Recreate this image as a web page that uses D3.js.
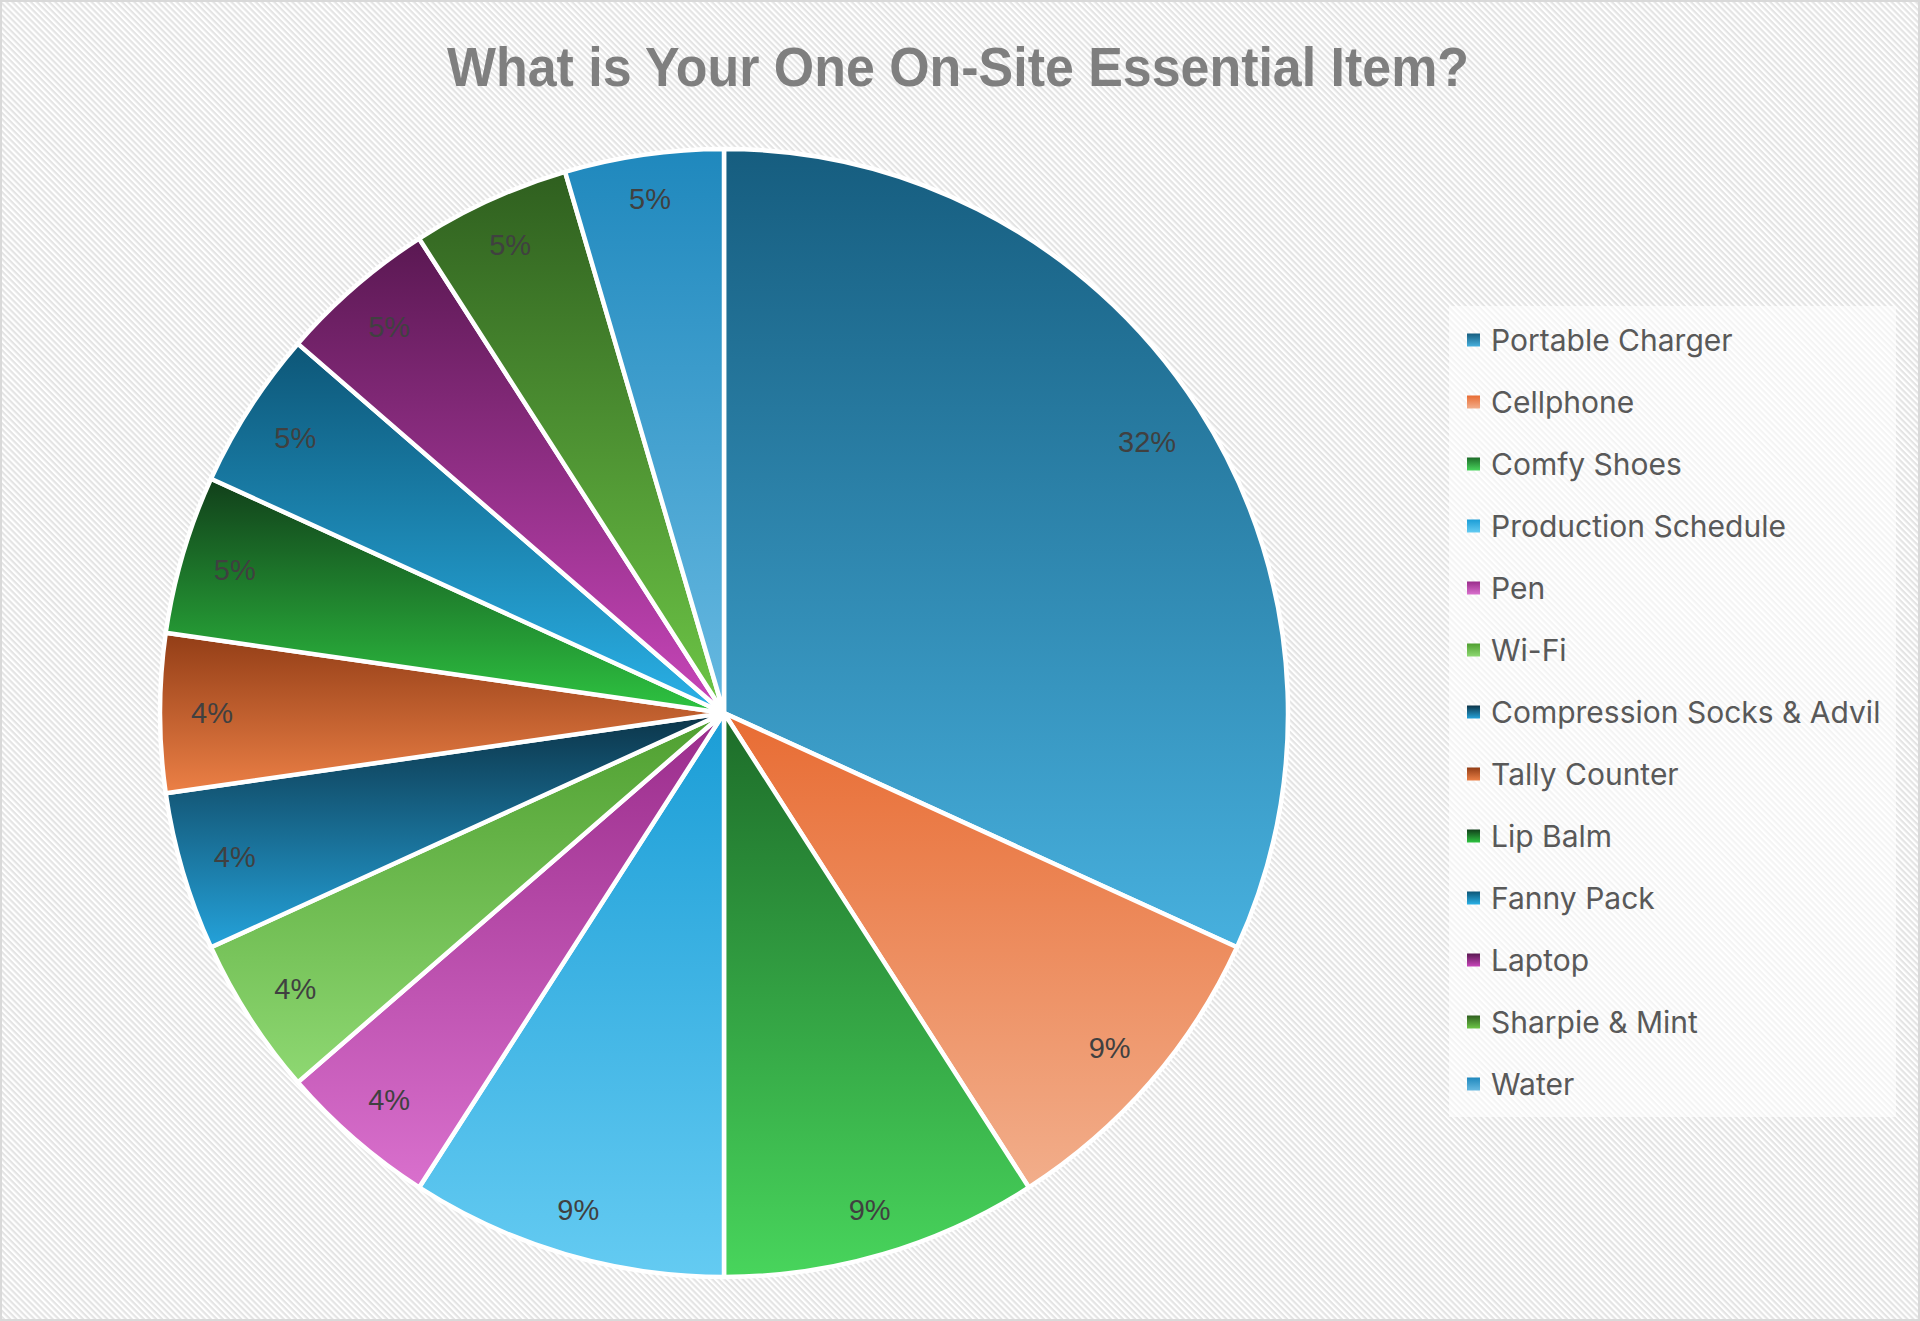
<!DOCTYPE html>
<html>
<head>
<meta charset="utf-8">
<script src="https://cdn.jsdelivr.net/npm/d3@7/dist/d3.min.js"></script>
<style>
  html, body { margin: 0; padding: 0; background: #fff; }
  svg { display: block; }
</style>
</head>
<body>
<script>
// ---- data ----
const categories = ["Portable Charger", "Cellphone", "Comfy Shoes", "Production Schedule", "Pen", "Wi-Fi",
  "Compression Socks & Advil", "Tally Counter", "Lip Balm", "Fanny Pack", "Laptop", "Sharpie & Mint", "Water"];
const responses = [7, 2, 2, 2, 1, 1, 1, 1, 1, 1, 1, 1, 1];
const percentLabels = ["32%", "9%", "9%", "9%", "4%", "4%", "4%", "4%", "5%", "5%", "5%", "5%", "5%"];
const gradientTop = ["#165d7f", "#e86c33", "#1d6c29", "#1b9dd6", "#9a2c8b", "#4f9f30",
  "#0c3448", "#923d16", "#113f1a", "#0d5677", "#5a1852", "#2f5f1f", "#1f88bd"];
const gradientBottom = ["#47b0de", "#f2ae8b", "#48d55c", "#64cbf2", "#d970cd", "#8ed872",
  "#24a2da", "#ec8046", "#2ec441", "#2ab1e7", "#c846ba", "#6dc646", "#67b9e1"];
const title = "What is Your One On-Site Essential Item?";

// ---- layout ----
const W = 1920, H = 1321;
const cx = 724, cy = 713, R = 564;

const svg = d3.select("body").append("svg").attr("width", W).attr("height", H);
const defs = svg.append("defs");

// background hatch
const P = 4.3;
const pat = defs.append("pattern").attr("id", "hatch").attr("patternUnits", "userSpaceOnUse")
  .attr("width", P).attr("height", P).attr("patternTransform", "rotate(45)");
pat.append("rect").attr("width", P).attr("height", P).attr("fill", "#ffffff");
pat.append("rect").attr("width", P).attr("height", P / 2).attr("fill", "#e4e4e4");

svg.append("rect").attr("x", 0).attr("y", 0).attr("width", W).attr("height", H).attr("fill", "url(#hatch)");
svg.append("rect").attr("x", 1).attr("y", 1).attr("width", W - 2).attr("height", H - 2)
  .attr("fill", "none").attr("stroke", "#d9d9d9").attr("stroke-width", 2);

// gradients
categories.forEach((c, i) => {
  const g = defs.append("linearGradient").attr("id", "g" + i)
    .attr("x1", 0).attr("y1", 0).attr("x2", 0).attr("y2", 1);
  g.append("stop").attr("offset", "0%").attr("stop-color", gradientTop[i]);
  g.append("stop").attr("offset", "100%").attr("stop-color", gradientBottom[i]);
});

// title
svg.append("text").attr("x", 958).attr("y", 86).attr("text-anchor", "middle")
  .attr("font-family", "'Liberation Sans Narrow', 'Liberation Sans', Arial, sans-serif")
  .attr("font-weight", "bold").attr("font-size", 56).attr("fill", "#7f7f7f")
  .attr("textLength", 1022).attr("lengthAdjust", "spacingAndGlyphs")
  .text(title);

// pie
const pie = d3.pie().sort(null).value(d => d)(responses);
const arc = d3.arc().innerRadius(0).outerRadius(R);

const gPie = svg.append("g").attr("transform", `translate(${cx},${cy})`);
gPie.selectAll("path").data(pie).join("path")
  .attr("d", arc)
  .attr("fill", (d, i) => `url(#g${i})`)
  .attr("stroke", "#ffffff").attr("stroke-width", 4.5).attr("stroke-linejoin", "round");

// labels: keep each label box inside the rim (Excel-like inside-end placement)
const labelFont = 29;
const lbl = gPie.selectAll("text.lbl").data(pie).join("text").attr("class", "lbl")
  .attr("text-anchor", "middle").attr("dy", "0.36em")
  .attr("font-family", "'Liberation Sans', Arial, sans-serif").attr("font-size", labelFont)
  .attr("fill", "#404040")
  .text((d, i) => percentLabels[i]);
lbl.each(function (d) {
  const bb = this.getBBox();
  const a = (d.startAngle + d.endAngle) / 2;
  const hw = bb.width / 2, hh = labelFont * 0.36;
  const rr = R * 0.945 - (hw * Math.abs(Math.sin(a)) + hh * Math.abs(Math.cos(a)));
  d3.select(this).attr("transform", `translate(${rr * Math.sin(a)},${-rr * Math.cos(a)})`);
});

// legend
const lg = svg.append("g");
lg.append("rect").attr("x", 1449).attr("y", 306).attr("width", 447).attr("height", 811)
  .attr("fill", "#ffffff").attr("fill-opacity", 0.6);
const ly = d3.scalePoint().domain(categories).range([340, 1084]);
const items = lg.selectAll("g.item").data(categories).join("g").attr("class", "item")
  .attr("transform", d => `translate(1467,${ly(d)})`);
items.append("rect").attr("x", 0).attr("y", -6.5).attr("width", 13).attr("height", 13)
  .attr("fill", (d, i) => `url(#g${i})`);
items.append("text").attr("x", 24).attr("y", 0).attr("dy", "0.36em")
  .attr("font-family", "Inter, 'Open Sans', sans-serif").attr("font-size", 30)
  .attr("fill", "#595959")
  .text(d => d);
</script>
</body>
</html>
